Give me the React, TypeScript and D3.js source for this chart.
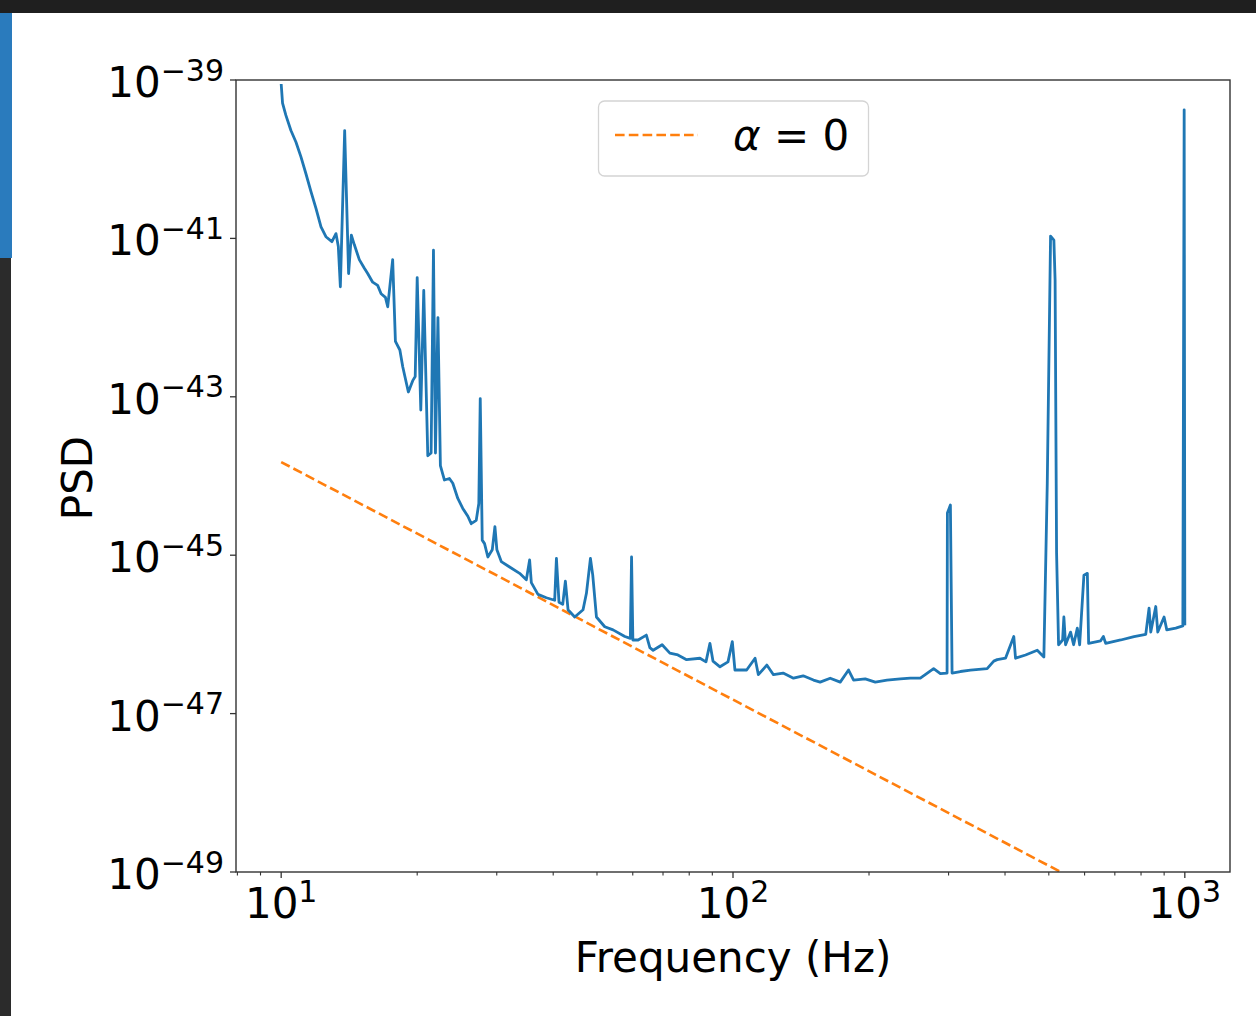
import React from 'react';
import * as d3 from 'd3';

// Measured PSD of the strain data, [frequency in Hz, PSD]
const PSD_SERIES: [number, number][] = [
  [10, 8.9e-40], [10.07, 5.1e-40], [10.24, 3.6e-40], [10.51, 2.3e-40], [10.78, 1.65e-40],
  [11.06, 1.07e-40], [11.34, 6.6e-41], [11.64, 3.9e-41], [11.94, 2.4e-41], [12.25, 1.4e-41],
  [12.56, 1.05e-41], [12.95, 9.1e-42], [13.22, 1.15e-41], [13.38, 7.9e-42], [13.52, 2.45e-42],
  [13.82, 2.3e-40], [14.1, 3.6e-42], [14.3, 1.1e-41], [14.52, 8.3e-42], [14.89, 5.4e-42],
  [15.28, 4.2e-42], [15.54, 3.6e-42], [15.94, 2.8e-42], [16.35, 2.55e-42], [16.64, 2.0e-42],
  [17.01, 1.8e-42], [17.21, 1.37e-42], [17.65, 5.4e-42], [17.9, 5.0e-43], [18.31, 3.9e-43],
  [18.58, 2.4e-43], [19.12, 1.15e-43], [19.55, 1.6e-43], [19.8, 1.8e-43], [20.0, 3.2e-42],
  [20.37, 6.8e-44], [20.68, 2.2e-42], [21.11, 1.8e-44], [21.47, 1.95e-44], [21.73, 7.1e-42],
  [21.95, 1.95e-44], [22.23, 1.0e-42], [22.51, 1.35e-44], [22.98, 8.9e-45], [23.57, 9.3e-45],
  [23.98, 8.1e-45], [24.6, 5.2e-45], [25.23, 3.9e-45], [25.89, 3.1e-45], [26.34, 2.5e-45],
  [27.02, 2.75e-45], [27.38, 4.5e-45], [27.58, 9.5e-44], [27.86, 1.55e-45], [28.19, 1.4e-45],
  [28.67, 9.5e-46], [29.32, 1.17e-45], [29.72, 2.3e-45], [30.02, 1.17e-45], [30.7, 8.3e-46],
  [32.03, 7.1e-46], [33.71, 5.9e-46], [34.88, 4.9e-46], [35.47, 8.7e-46], [35.78, 4.5e-46],
  [37.01, 3.2e-46], [38.63, 2.9e-46], [40.3, 2.7e-46], [40.66, 9.1e-46], [41.2, 2.55e-46],
  [41.99, 2.4e-46], [42.56, 4.7e-46], [43.14, 2.05e-46], [44.64, 1.66e-46], [46.57, 2.05e-46],
  [47.38, 3.3e-46], [48.36, 9.1e-46], [48.93, 5.6e-46], [49.86, 1.66e-46], [52.02, 1.25e-46],
  [54.27, 1.14e-46], [57.62, 9.4e-47], [59.26, 8.9e-47], [59.63, 9.5e-46], [60.03, 8.5e-47],
  [61.66, 8.5e-47], [64.3, 9.8e-47], [65.46, 6.8e-47], [66.57, 6.3e-47], [69.69, 7.4e-47],
  [72.48, 5.8e-47], [75.51, 5.5e-47], [78.94, 4.8e-47], [84.5, 5.0e-47], [87.13, 4.5e-47],
  [88.92, 7.7e-47], [90.3, 4.6e-47], [93.58, 3.9e-47], [97.48, 4.5e-47], [99.65, 8.1e-47],
  [101.0, 3.55e-47], [107.2, 3.55e-47], [111.9, 5.0e-47], [113.8, 3.1e-47], [118.8, 4.1e-47],
  [122.9, 3.1e-47], [129.1, 3.25e-47], [136.1, 2.8e-47], [143.0, 3.0e-47], [150.7, 2.65e-47],
  [155.9, 2.5e-47], [164.1, 2.8e-47], [172.7, 2.5e-47], [180.2, 3.55e-47], [184.9, 2.65e-47],
  [196.2, 2.75e-47], [206.5, 2.5e-47], [219.2, 2.65e-47], [234.6, 2.75e-47], [246.9, 2.8e-47],
  [259.8, 2.8e-47], [278.0, 3.7e-47], [287.7, 3.2e-47], [297.7, 3.25e-47], [298.2, 3.4e-45],
  [302.8, 4.3e-45], [305.4, 3.25e-47], [318.6, 3.4e-47], [335.4, 3.55e-47], [365.2, 3.7e-47],
  [377.7, 4.6e-47], [384.3, 4.8e-47], [401.0, 5.0e-47], [418.3, 9.4e-47], [422.0, 5.0e-47],
  [444.1, 5.5e-47], [471.4, 6.3e-47], [487.6, 5.2e-47], [496.1, 8.1e-45], [504.5, 1.07e-41],
  [513.1, 9.5e-42], [516.3, 2.95e-42], [520.2, 1.07e-45], [525.5, 7.4e-47], [536.4, 8.5e-47],
  [539.9, 1.66e-46], [544.6, 7.4e-47], [558.7, 1.07e-46], [567.4, 7.4e-47], [578.2, 1.2e-46],
  [585.1, 7.4e-47], [598.0, 5.6e-46], [608.5, 5.9e-46], [612.5, 7.7e-47], [651.2, 8.3e-47],
  [660.3, 9.4e-47], [668.1, 7.7e-47], [721.2, 8.5e-47], [772.0, 9.4e-47], [819.5, 1.0e-46],
  [833.4, 2.15e-46], [840.7, 1.07e-46], [862.4, 2.25e-46], [871.2, 1.07e-46], [899.7, 1.66e-46],
  [912.2, 1.14e-46], [955.0, 1.2e-46], [990.0, 1.28e-46], [996.7, 4.2e-40], [1000, 1.3e-46],
];

// alpha = 0 power-law line
const FIT_LINE: [number, number][] = [[10, 1.5e-44], [100, 1.5e-47], [1000, 1.5e-50]];

const X_MAJOR = [10, 100, 1000];
const X_MAJOR_EXP = ['1', '2', '3'];
const X_MINOR = [8, 9, 20, 30, 40, 50, 60, 70, 80, 90, 200, 300, 400, 500, 600, 700, 800, 900];
const Y_MAJOR_EXP = [-49, -47, -45, -43, -41, -39];

const X_LABEL = 'Frequency (Hz)';
const Y_LABEL = 'PSD';
const LEGEND_SYMBOL = 'α';
const LEGEND_REST = ' = 0';

const W = 1256;
const H = 1016;
const box = { left: 236, top: 80, right: 1230, bottom: 872 };
const FONT = 'DejaVu Sans, sans-serif';
const BLUE = '#1f77b4';
const ORANGE = '#ff7f0e';

export default function App() {
  const x = d3.scaleLog().domain([10 ** 0.9, 10 ** 3.1]).range([box.left, box.right]);
  const y = d3.scaleLog().domain([1e-49, 1e-39]).range([box.bottom, box.top]);

  const line = d3.line<[number, number]>()
    .x((d) => x(d[0]))
    .y((d) => y(d[1]));

  return (
    <>
      <style>{'body{margin:0}'}</style>
      <svg width={W} height={H} style={{ display: 'block' }}>
        <rect width={W} height={H} fill="#ffffff" />
        {/* editor chrome around the notebook output */}
        <rect x={0} y={0} width={W} height={13} fill="#1f1f1f" />
        <rect x={0} y={13} width={12} height={245} fill="#2a7bbd" />
        <rect x={0} y={258} width={11} height={H - 258} fill="#2b2b2b" />

        <defs>
          <clipPath id="plot-area">
            <rect x={box.left} y={box.top} width={box.right - box.left} height={box.bottom - box.top} />
          </clipPath>
        </defs>

        <g clipPath="url(#plot-area)">
          <path d={line(FIT_LINE) ?? ''} fill="none" stroke={ORANGE} strokeWidth={2.6} strokeDasharray="9.6,4.2" />
          <path d={line(PSD_SERIES) ?? ''} fill="none" stroke={BLUE} strokeWidth={2.8} strokeLinejoin="round" />
        </g>

        {/* frame */}
        <rect
          x={box.left}
          y={box.top}
          width={box.right - box.left}
          height={box.bottom - box.top}
          fill="none"
          stroke="#333"
          strokeWidth={1.4}
        />

        {/* x ticks */}
        {X_MINOR.map((v) => (
          <line key={`xm${v}`} x1={x(v)} x2={x(v)} y1={box.bottom} y2={box.bottom + 3.5} stroke="#333" strokeWidth={1.1} />
        ))}
        {X_MAJOR.map((v, i) => (
          <g key={`x${v}`}>
            <line x1={x(v)} x2={x(v)} y1={box.bottom} y2={box.bottom + 6} stroke="#333" strokeWidth={1.3} />
            <text x={x(v)} y={918} textAnchor="middle" fontSize={42} fontFamily={FONT} fill="#000">
              10<tspan fontSize={30} dy={-16.5}>{X_MAJOR_EXP[i]}</tspan>
            </text>
          </g>
        ))}

        {/* y ticks */}
        {Y_MAJOR_EXP.map((e) => {
          const ty = y(10 ** e);
          return (
            <g key={`y${e}`}>
              <line x1={box.left - 6} x2={box.left} y1={ty} y2={ty} stroke="#333" strokeWidth={1.3} />
              <text x={224} y={ty + 17} textAnchor="end" fontSize={42} fontFamily={FONT} fill="#000">
                10<tspan fontSize={30} dy={-16.5}>{`\u2212${Math.abs(e)}`}</tspan>
              </text>
            </g>
          );
        })}

        {/* axis labels */}
        <text x={(box.left + box.right) / 2} y={972} textAnchor="middle" fontSize={42} fontFamily={FONT} fill="#000">
          {X_LABEL}
        </text>
        <text
          transform={`translate(92,${(box.top + box.bottom) / 2 + 2}) rotate(-90)`}
          textAnchor="middle"
          fontSize={42}
          fontFamily={FONT}
          fill="#000"
        >
          {Y_LABEL}
        </text>

        {/* legend */}
        <rect x={598.5} y={101} width={270} height={75} rx={6} fill="#ffffff" fillOpacity={0.8} stroke="#d4d4d4" strokeWidth={1.3} />
        <line x1={615} x2={698} y1={135} y2={135} stroke={ORANGE} strokeWidth={2.6} strokeDasharray="9.6,4.2" />
        <text x={733} y={150} fontSize={42} fontFamily={FONT} fill="#000">
          <tspan fontStyle="italic">{LEGEND_SYMBOL}</tspan>
          <tspan style={{ whiteSpace: 'pre' }}>{LEGEND_REST}</tspan>
        </text>
      </svg>
    </>
  );
}
